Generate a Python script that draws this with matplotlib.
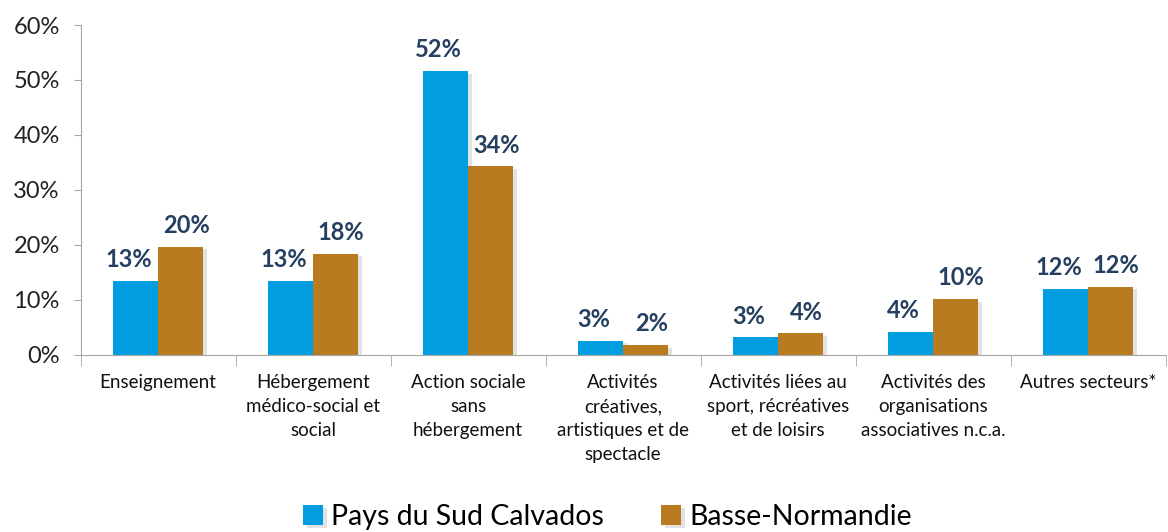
import matplotlib.pyplot as plt
import matplotlib.patheffects as pe
import numpy as np

plt.rcParams["font.family"] = ["Lato", "DejaVu Sans"]

categories = [
    "Enseignement",
    "Hébergement\nmédico-social et\nsocial",
    "Action sociale\nsans\nhébergement",
    "Activités\ncréatives,\nartistiques et de\nspectacle",
    "Activités liées au\nsport, récréatives\net de loisirs",
    "Activités des\norganisations\nassociatives n.c.a.",
    "Autres secteurs*",
]
sud_calvados = [13.4, 13.4, 51.6, 2.6, 3.2, 4.2, 12.0]
basse_normandie = [19.7, 18.4, 34.3, 1.8, 3.9, 10.2, 12.4]
sud_labels = ["13%", "13%", "52%", "3%", "3%", "4%", "12%"]
bn_labels = ["20%", "18%", "34%", "2%", "4%", "10%", "12%"]

blue = "#009EE0"
brown = "#B87B1F"
label_color = "#243F60"
axis_color = "#A6A6A6"

fig = plt.figure(figsize=(11.68, 5.32), dpi=100)
ax = fig.add_axes([0.069, 0.333, 0.929, 0.62])

x = np.arange(len(categories))
w = 0.29
shadow = [pe.SimplePatchShadow(offset=(3, -2), shadow_rgbFace="#B8B8B8", alpha=0.4), pe.Normal()]
b1 = ax.bar(x - w / 2, sud_calvados, w, color=blue, label="Pays du Sud Calvados",
            path_effects=shadow)
b2 = ax.bar(x + w / 2, basse_normandie, w, color=brown, label="Basse-Normandie",
            path_effects=shadow)

lab_kw = dict(padding=7, fontsize=17, fontweight="bold", color=label_color)
for ann in ax.bar_label(b1, labels=sud_labels, **lab_kw):
    ann.xyann = (-5, 7)
for ann in ax.bar_label(b2, labels=bn_labels, **lab_kw):
    ann.xyann = (4, 7)

ax.set_xlim(-0.5, len(categories) - 0.5)
ax.set_ylim(0, 60)
ax.set_yticks(range(0, 61, 10))
ax.set_yticklabels([f"{v}%" for v in range(0, 61, 10)], fontsize=17, color="#222222")

ax.set_xticks(x)
ax.set_xticklabels(categories, fontsize=13.5, color="#111111", va="top", linespacing=1.5)
ax.tick_params(axis="x", length=0, pad=14)
ax.set_xticks(np.arange(-0.5, len(categories)), minor=True)
ax.tick_params(axis="x", which="minor", length=8, color=axis_color)
ax.tick_params(axis="y", length=5, color=axis_color, pad=10)

for s in ["top", "right"]:
    ax.spines[s].set_visible(False)
for s in ["left", "bottom"]:
    ax.spines[s].set_color(axis_color)

fig.legend(handles=[b1, b2], loc="lower center", bbox_to_anchor=(0.52, -0.045), ncol=2,
           frameon=False, fontsize=20.5, handlelength=0.7, handleheight=0.7,
           handletextpad=0.3, columnspacing=2.0)

fig.savefig("out.png", dpi=100)
